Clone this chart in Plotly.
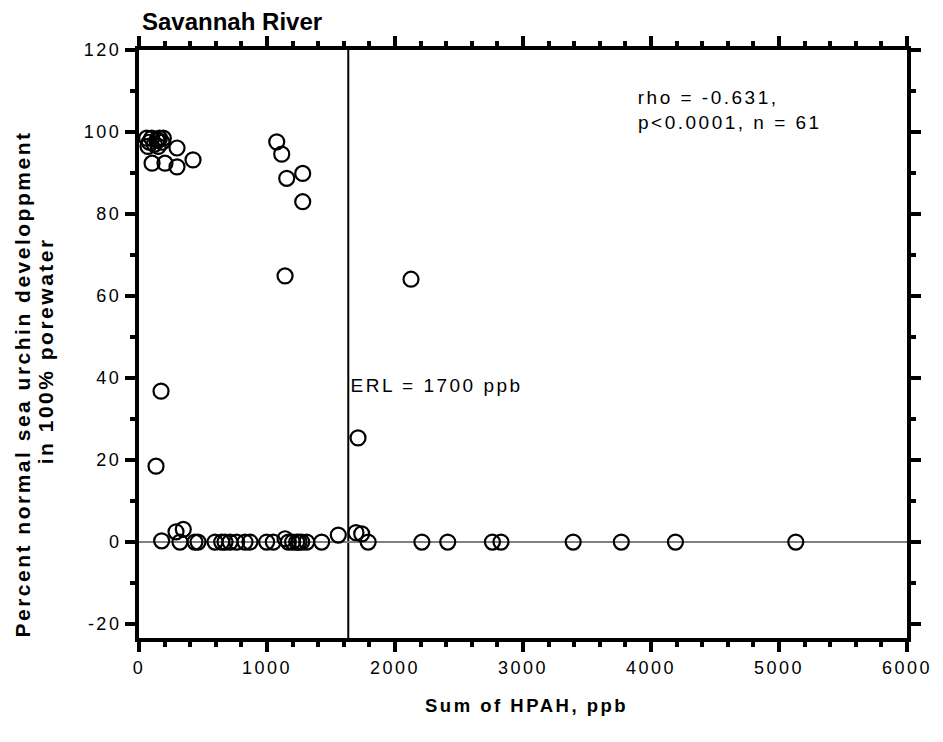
import plotly.graph_objects as go

# ---- data ----
hpah_ppb = [
    60, 80, 100, 120, 140, 160, 180, 190, 70, 150, 150,
    297, 422, 297, 203, 102,
    1076, 1115, 1154, 1279, 1279, 1141, 2125, 172, 133, 1711,
    177, 289, 346, 320, 437, 461, 594, 646, 672, 711, 763, 828, 867,
    997, 1049, 1141, 1167, 1200, 1232, 1250, 1271, 1310, 1427,
    1557, 1695, 1740, 1790,
    2210, 2412, 2761, 2828, 3392, 3768, 4191, 5131,
]
pct_normal = [
    98.5, 97.5, 98.5, 97, 98, 98.5, 97.5, 98.5, 96.5, 96.5, 98,
    96.1, 93.2, 91.5, 92.4, 92.4,
    97.6, 94.6, 88.7, 89.9, 83.0, 64.9, 64.1, 36.8, 18.5, 25.4,
    0.3, 2.5, 3.1, 0, 0, 0, 0, 0, 0, 0, 0, 0, 0,
    0, 0, 0.8, 0, 0, 0, 0, 0, 0, 0,
    1.7, 2.3, 2.0, 0,
    0, 0, 0, 0, 0, 0, 0, 0,
]
erl_x = 1635
x_ticks = [0, 1000, 2000, 3000, 4000, 5000, 6000]
x_ticklabels = ["0", "1000", "2000", "3000", "4000", "5000", "6000"]
y_ticks = [-20, 0, 20, 40, 60, 80, 100, 120]
y_ticklabels = ["-20", "0", "20", "40", "60", "80", "100", "120"]
title_text = "Savannah River"
x_title = "Sum of HPAH, ppb"
y_title_lines = ["Percent normal sea urchin developpment", "in 100% porewater"]
stat_lines = ["rho = -0.631,", "p&lt;0.0001, n = 61"]
erl_label = "ERL = 1700 ppb"

FONT = "Liberation Sans, Arial, sans-serif"

# page has an 8px body margin: figure is 935x734 drawn at (8,8)
W, H = 935, 734
ML, MR, MT, MB = 131, 36, 42, 104
PW, PH = W - ML - MR, H - MT - MB


def px_x(page_x):
    return (page_x - 8 - ML) / PW


def px_y(page_y):
    return 1 - (page_y - 8 - MT) / PH


fig = go.Figure()
fig.add_trace(go.Scatter(
    x=hpah_ppb, y=pct_normal, mode="markers",
    marker=dict(symbol="circle-open", size=15, color="black",
                line=dict(color="black", width=2.2)),
    showlegend=False, cliponaxis=False,
))

axis_common = dict(
    showgrid=False, showline=True, linecolor="black", linewidth=4,
    mirror="ticks", ticks="outside", ticklen=10, tickwidth=4, tickcolor="black",
    tickfont=dict(family=FONT, size=18, color="black"),
)
fig.update_xaxes(
    range=[0, 6000], tickvals=x_ticks, ticktext=x_ticklabels, zeroline=False,
    minor=dict(dtick=200, ticks="outside", ticklen=5, tickwidth=4, tickcolor="black"),
    **axis_common,
)
fig.update_yaxes(
    range=[-23.4, 120], tickvals=y_ticks, ticktext=y_ticklabels,
    zeroline=True, zerolinecolor="#808080", zerolinewidth=2,
    minor=dict(dtick=10, ticks="outside", ticklen=5, tickwidth=4, tickcolor="black"),
    **axis_common,
)

fig.add_shape(type="line", xref="x", yref="paper", x0=erl_x, x1=erl_x, y0=0, y1=1,
              line=dict(color="black", width=2), layer="below")

ann_font = dict(family=FONT, size=19, color="black")
fig.add_annotation(x=4010, y=108.5, xref="x", yref="y", text=stat_lines[0], showarrow=False,
                   xanchor="left", yanchor="middle", font=ann_font)
fig.add_annotation(x=4039, y=102.2, xref="x", yref="y", text=stat_lines[1], showarrow=False,
                   xanchor="left", yanchor="middle", font=ann_font)
fig.add_annotation(x=1770, y=38.3, xref="x", yref="y", text=erl_label, showarrow=False,
                   xanchor="left", yanchor="middle", font=ann_font)

fig.add_annotation(x=px_x(139.5), y=px_y(21), xref="paper", yref="paper",
                   text="<b>" + title_text + "</b>", showarrow=False,
                   xanchor="left", yanchor="middle",
                   font=dict(family=FONT, size=24, color="black"))
fig.add_annotation(x=px_x(22), y=px_y(384), xref="paper", yref="paper",
                   text="<b>" + y_title_lines[0] + "</b>", textangle=-90, showarrow=False,
                   xanchor="center", yanchor="middle",
                   font=dict(family=FONT, size=21, color="black"))
fig.add_annotation(x=px_x(45), y=px_y(351), xref="paper", yref="paper",
                   text="<b>" + y_title_lines[1] + "</b>", textangle=-90, showarrow=False,
                   xanchor="center", yanchor="middle",
                   font=dict(family=FONT, size=21, color="black"))
fig.add_annotation(x=px_x(526), y=px_y(705), xref="paper", yref="paper",
                   text="<b>" + x_title + "</b>", showarrow=False,
                   xanchor="center", yanchor="middle",
                   font=dict(family=FONT, size=18.5, color="black"))

fig.update_layout(
    width=W, height=H,
    margin=dict(l=ML, r=MR, t=MT, b=MB),
    paper_bgcolor="white", plot_bgcolor="white",
    font=dict(family=FONT, color="black"),
)

post = """
var gd = document.getElementById('{plot_id}');
function ls() {
  gd.querySelectorAll('text').forEach(function (t) {
    if ((t.textContent || '').indexOf('Savannah') === -1) { t.style.letterSpacing = '2.5px'; }
  });
}
ls();
if (gd.on) { gd.on('plotly_afterplot', ls); }
setTimeout(ls, 50);
"""
fig.write_html("out.html", post_script=post)
